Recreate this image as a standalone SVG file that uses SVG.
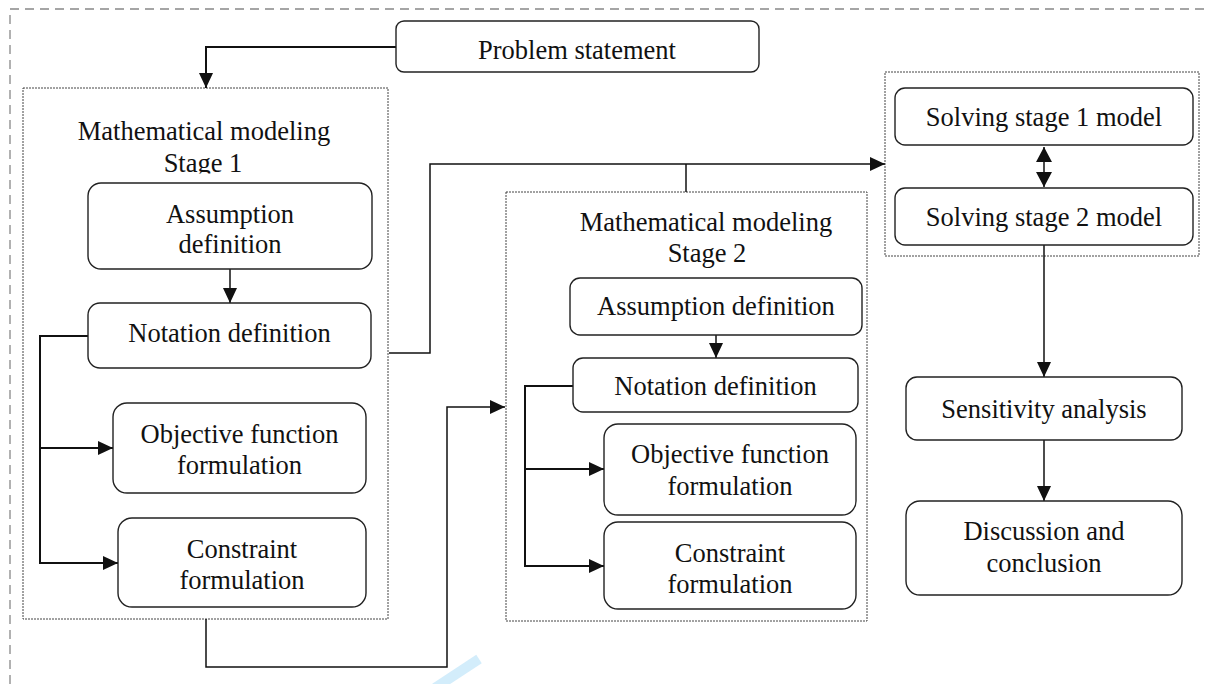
<svg xmlns="http://www.w3.org/2000/svg" width="1208" height="684" viewBox="0 0 1208 684">
<style>
.bg{fill:#fff}
.outer{fill:none;stroke:#888;stroke-width:1.3;stroke-dasharray:9 6}
.grp{fill:none;stroke:#444;stroke-width:1;stroke-dasharray:2 1}
.box{fill:#fff;stroke:#222;stroke-width:1.4}
.t{font-family:"Liberation Serif","Times New Roman",serif;font-size:26.5px;fill:#111;text-anchor:middle}
.c{fill:none;stroke:#111;stroke-width:1.5}
.c2{fill:none;stroke:#111;stroke-width:2}
</style>
<defs>
<marker id="ah" markerUnits="userSpaceOnUse" markerWidth="15" markerHeight="14" refX="15" refY="7" orient="auto-start-reverse" viewBox="0 0 15 14">
<path d="M0,0 L15,7 L0,14 z" fill="#111"/>
</marker>
<marker id="ah2" markerUnits="userSpaceOnUse" markerWidth="15" markerHeight="16" refX="15" refY="8" orient="auto-start-reverse" viewBox="0 0 15 16">
<path d="M0,0 L15,8 L0,16 z" fill="#111"/>
</marker>
<clipPath id="clip1"><rect x="23" y="88" width="365" height="85.5"/></clipPath>
</defs>
<rect class="bg" x="0" y="0" width="1208" height="684"/>
<path class="outer" d="M10,684 V9 H1208"/>

<g id="stage1-group">
<rect class="grp" x="23" y="88" width="365" height="531"/>
<g clip-path="url(#clip1)">
<text class="t" x="204" y="140">Mathematical modeling</text>
<text class="t" x="203" y="172">Stage 1</text>
</g>
</g>
<g id="stage2-group">
<rect class="grp" x="506" y="192" width="361" height="429"/>
<text class="t" x="706" y="231">Mathematical modeling</text>
<text class="t" x="707" y="262">Stage 2</text>
</g>
<g id="solving-group">
<rect class="grp" x="885" y="72" width="314" height="184"/>
</g>

<g id="connectors">
<path class="c2" d="M396,47 H206 V88" marker-end="url(#ah)"/>
<path class="c" d="M230,269 V303" marker-end="url(#ah)"/>
<path class="c2" d="M88,336 H40 V563 H118" marker-end="url(#ah)"/>
<path class="c2" d="M40,448 H113" marker-end="url(#ah)"/>
<path class="c" d="M389,353 H430 V164 H885" marker-end="url(#ah)"/>
<path class="c" d="M686,164 V192"/>
<path class="c" d="M206,619 V667 H447 V407 H505" marker-end="url(#ah)"/>
<path class="c" d="M716,335 V358" marker-end="url(#ah)"/>
<path class="c2" d="M573,386 H525 V566 H604" marker-end="url(#ah)"/>
<path class="c2" d="M525,469 H604" marker-end="url(#ah)"/>
<path class="c" d="M1044,147 V187" marker-start="url(#ah2)" marker-end="url(#ah2)"/>
<path class="c" d="M1044,245 V377" marker-end="url(#ah)"/>
<path class="c" d="M1044,440 V501" marker-end="url(#ah)"/>
</g>

<g id="problem">
<rect class="box" x="396" y="21" width="363" height="51" rx="8"/>
<text class="t" x="577" y="59">Problem statement</text>
</g>
<g id="assumption1">
<rect class="box" x="88" y="183" width="284" height="86" rx="13"/>
<text class="t" x="230" y="223">Assumption</text>
<text class="t" x="230" y="253">definition</text>
</g>
<g id="notation1">
<rect class="box" x="88" y="303" width="283" height="65" rx="12"/>
<text class="t" x="229.5" y="342">Notation definition</text>
</g>
<g id="objective1">
<rect class="box" x="113" y="403" width="253" height="90" rx="14"/>
<text class="t" x="239.5" y="443">Objective function</text>
<text class="t" x="239.5" y="474">formulation</text>
</g>
<g id="constraint1">
<rect class="box" x="118" y="518" width="248" height="89" rx="14"/>
<text class="t" x="242" y="558">Constraint</text>
<text class="t" x="242" y="589">formulation</text>
</g>
<g id="assumption2">
<rect class="box" x="570" y="278" width="292" height="57" rx="10"/>
<text class="t" x="716" y="315">Assumption definition</text>
</g>
<g id="notation2">
<rect class="box" x="573" y="358" width="285" height="54" rx="10"/>
<text class="t" x="715.5" y="395">Notation definition</text>
</g>
<g id="objective2">
<rect class="box" x="604" y="424" width="252" height="91" rx="14"/>
<text class="t" x="730" y="463">Objective function</text>
<text class="t" x="730" y="495">formulation</text>
</g>
<g id="constraint2">
<rect class="box" x="604" y="522" width="252" height="87" rx="14"/>
<text class="t" x="730" y="562">Constraint</text>
<text class="t" x="730" y="593">formulation</text>
</g>
<g id="solving1">
<rect class="box" x="895" y="88" width="298" height="57" rx="10"/>
<text class="t" x="1044" y="126">Solving stage 1 model</text>
</g>
<g id="solving2">
<rect class="box" x="895" y="188" width="298" height="57" rx="10"/>
<text class="t" x="1044" y="226">Solving stage 2 model</text>
</g>
<g id="sensitivity">
<rect class="box" x="906" y="377" width="276" height="63" rx="11"/>
<text class="t" x="1044" y="417.5">Sensitivity analysis</text>
</g>
<g id="discussion">
<rect class="box" x="906" y="501" width="276" height="94" rx="14"/>
<text class="t" x="1044" y="540">Discussion and</text>
<text class="t" x="1044" y="572">conclusion</text>
</g>
<path d="M435,688 L479,659" stroke="#d3edfb" stroke-width="10" fill="none"/>
</svg>
